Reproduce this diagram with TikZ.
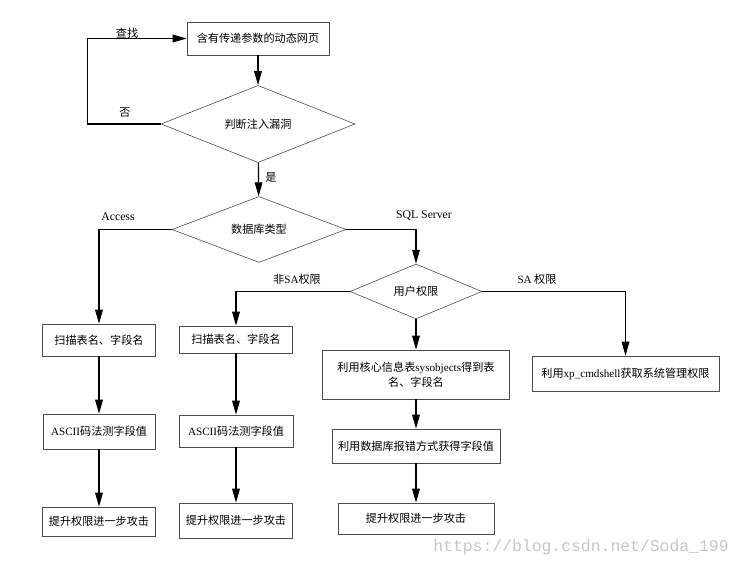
\documentclass[tikz,border=0pt]{standalone}
\usepackage{fontspec}
\setmainfont{Liberation Serif}
\newfontfamily\cjk{Noto Sans CJK SC}
\newfontfamily\wmfont{Liberation Mono}
\usetikzlibrary{shapes.geometric,arrows.meta}
\tikzset{
	stepbox/.style={draw=black!70, line width=0.5pt, inner sep=1pt, align=center, font=\cjk\fontsize{9.5}{12.5}\selectfont},
	judge/.style={draw=black!70, diamond, line width=0.5pt, inner sep=0pt, font=\cjk\fontsize{9.5}{12}\selectfont},
	flow/.style={-{Triangle[length=4.2mm,width=2.3mm]}, line width=1pt},
	tag/.style={font=\cjk\fontsize{9.5}{12}\selectfont}
}

\begin{document}
\begin{tikzpicture}[x=0.03cm, y=-0.03cm]
			%%%%% START %%%%%
			\useasboundingbox[fill=white] (0, 0) rectangle (742, 567);
			
			\node[stepbox, minimum width=4.26cm, minimum height=0.99cm] (page) at (258, 38.5) {含有传递参数的动态网页};
			\node[judge, minimum width=5.82cm, minimum height=1.74cm] (inject) at (258, 124) {判断注入漏洞};
			\node[judge, minimum width=5.22cm, minimum height=1.59cm] (dbtype) at (259, 229.5) {数据库类型};
			\node[judge, minimum width=3.96cm, minimum height=1.29cm] (user) at (416, 291.5) {用户权限};
			
			% Access
			\node[stepbox, minimum width=3.39cm, minimum height=0.96cm] (accscan) at (99, 340) {扫描表名、字段名};
			\node[stepbox, minimum width=3.36cm, minimum height=1.05cm] (accascii) at (99, 431.5) {\textrm{ASCII}码法测字段值};
			\node[stepbox, minimum width=3.39cm, minimum height=0.87cm] (accup) at (99, 521.5) {提升权限进一步攻击};
			
			% SQL Server, no SA
			\node[stepbox, minimum width=3.39cm, minimum height=0.81cm] (nsascan) at (236, 339.5) {扫描表名、字段名};
			\node[stepbox, minimum width=3.42cm, minimum height=0.96cm] (nsaascii) at (236, 431) {\textrm{ASCII}码法测字段值};
			\node[stepbox, minimum width=3.39cm, minimum height=1.05cm] (nsaup) at (236, 520.5) {提升权限进一步攻击};
			
			% SQL Server, SA
			\node[stepbox, minimum width=5.61cm, minimum height=1.47cm] (sysobj) at (416, 374.5) {利用核心信息表\textrm{sysobjects}得到表\\名、字段名};
			\node[stepbox, minimum width=5.04cm, minimum height=1.02cm] (dberr) at (416, 446) {利用数据库报错方式获得字段值};
			\node[stepbox, minimum width=4.68cm, minimum height=0.93cm] (saup) at (416, 518.5) {提升权限进一步攻击};
			\node[stepbox, minimum width=5.61cm, minimum height=1.05cm] (cmdshell) at (625.5, 373.5) {利用\textrm{xp\_cmdshell}获取系统管理权限};
			
			\draw[flow] (page) -- (inject);
			\draw[flow] (inject.west) -- ++(-73, 0) |- (page.west);
			\draw[flow] (inject) -- (dbtype);
			\draw[flow] (dbtype.west) -| (accscan.north);
			\draw[flow] (dbtype.east) -| (user.north);
			\draw[flow] (user.west) -| (nsascan.north);
			\draw[flow] (user.east) -| (cmdshell.north);
			\draw[flow] (user) -- (sysobj);
			
			\draw[flow] (accscan) -- (accascii);
			\draw[flow] (accascii) -- (accup);
			\draw[flow] (nsascan) -- (nsaascii);
			\draw[flow] (nsaascii) -- (nsaup);
			\draw[flow] (sysobj) -- (dberr);
			\draw[flow] (dberr) -- (saup);
			
			\node[tag] (lfind) at (127, 33) {查找};
			\node[tag] (lno) at (125, 113) {否};
			\node[tag] (lyes) at (271, 178) {是};
			\node[tag, font=\rmfamily\fontsize{10}{12}\selectfont] (lacc) at (118, 217) {Access};
			\node[tag, font=\rmfamily\fontsize{10}{12}\selectfont] (lsql) at (424, 216) {SQL Server};
			\node[tag] (lnsa) at (297, 279) {非\textrm{SA}权限};
			\node[tag] (lsa) at (537, 279) {\textrm{SA} 权限};
			
			\node[font=\wmfont\fontsize{14}{16}\selectfont, text=black!22] (mark) at (581, 547) {https://blog.csdn.net/Soda\_199};
			
			%%%%% END %%%%%
		\end{tikzpicture}
\end{document}
